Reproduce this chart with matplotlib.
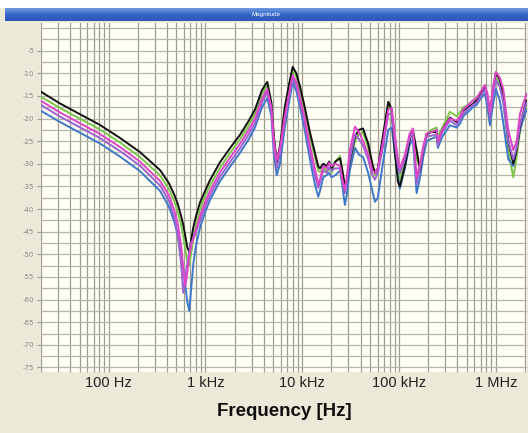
import numpy as np
import matplotlib
matplotlib.use("Agg")
import matplotlib.pyplot as plt
from matplotlib.patches import Rectangle
from matplotlib.ticker import FixedLocator, NullFormatter

# ---------------- data ----------------
freq_hz = [20, 31, 50, 81, 131, 210, 340, 420, 480, 520, 560, 590, 620, 650, 680, 710, 750, 800, 880,
           1000, 1115, 1400, 1800, 2275, 2800, 3250, 3840, 4350, 4800, 5100, 5450, 5900, 6600, 7300,
           7960, 8700, 9500, 10500, 12000, 13500, 14650, 15250, 16500, 17900, 19000, 20100, 22000,
           24600, 26000, 27600, 28800, 31000, 35100, 38500, 42500, 48000, 53000, 56400, 60400, 68000,
           77500, 84000, 90000, 97500, 102000, 115000, 128000, 139000, 152000, 165000, 178000, 193000,
           215000, 245000, 252000, 280000, 336000, 394000, 430000, 461000, 520000, 580000, 634000,
           700000, 773000, 830000, 870000, 935000, 1002000, 1100000, 1194000, 1345000, 1515000,
           1642000, 1776000, 1900000, 2082000]

black_db = [-14.1, -16.6, -19.0, -21.4, -24.3, -27.4, -31.4, -34.3, -37.0, -39.0, -41.5, -43.5, -46.0,
            -48.5, -49.5, -47.0, -44.0, -41.5, -38.5, -35.8, -33.6, -29.8, -26.5, -23.6, -20.5, -18.0,
            -13.7, -11.9, -16.5, -24.0, -29.5, -26.0, -17.5, -12.5, -8.6, -10.0, -13.0, -17.0, -23.0,
            -27.5, -30.6, -31.0, -30.0, -30.5, -29.5, -31.0, -29.5, -28.8, -31.5, -35.0, -34.0, -29.5,
            -24.0, -22.5, -22.2, -25.5, -30.0, -32.0, -31.0, -24.0, -16.3, -18.0, -27.0, -34.0, -35.0,
            -30.5, -25.0, -22.5, -27.0, -31.4, -27.0, -23.5, -23.0, -23.0, -25.5, -22.5, -19.8, -20.8,
            -19.5, -18.2, -17.5, -16.8, -16.0, -14.5, -12.8, -16.0, -19.5, -14.0, -9.8, -11.5, -14.5,
            -25.0, -30.0, -27.0, -22.0, -19.0, -16.0]

green_db = [-15.2, -17.6, -20.0, -22.4, -25.3, -28.5, -32.6, -35.6, -38.5, -40.8, -43.5, -46.0, -49.0,
            -51.5, -52.5, -50.0, -46.5, -43.5, -40.0, -37.0, -34.8, -31.0, -27.6, -24.6, -21.5, -19.0,
            -14.6, -12.6, -17.0, -24.5, -30.0, -26.5, -18.5, -13.3, -9.3, -10.8, -14.0, -18.0, -24.0,
            -28.5, -31.5, -31.8, -31.0, -31.5, -31.0, -32.0, -29.5, -28.3, -32.0, -35.5, -34.5, -30.5,
            -25.0, -23.5, -23.0, -26.5, -30.5, -32.5, -31.5, -25.0, -17.0, -18.5, -26.0, -32.0, -33.5,
            -29.0, -24.5, -23.0, -29.0, -30.5, -26.5, -23.5, -22.5, -22.0, -24.0, -22.0, -18.5, -19.5,
            -18.5, -17.5, -17.0, -16.0, -15.5, -14.0, -13.0, -16.5, -19.0, -14.5, -11.0, -12.5, -16.0,
            -27.0, -33.0, -28.5, -23.0, -20.0, -17.0]

magenta_db = [-16.1, -18.6, -21.0, -23.4, -26.3, -29.5, -33.8, -37.0, -40.5, -43.5, -48.0, -53.0, -57.0,
              -54.0, -50.5, -48.0, -46.5, -44.5, -41.5, -38.3, -36.0, -32.0, -28.6, -25.6, -22.5, -20.0,
              -15.6, -13.5, -17.5, -25.0, -29.2, -26.5, -19.5, -14.5, -10.5, -12.0, -15.5, -19.5, -26.0,
              -31.0, -34.5, -33.5, -30.5, -31.0, -29.8, -30.5, -30.0, -30.5, -33.5, -35.8, -33.0, -27.0,
              -21.8, -23.0, -25.0, -28.0, -31.5, -32.0, -31.0, -25.5, -18.0, -17.7, -23.0, -29.0, -31.0,
              -28.0, -23.5, -22.2, -33.0, -30.0, -26.0, -23.3, -23.0, -22.5, -25.0, -22.5, -20.0, -20.5,
              -19.5, -18.0, -17.0, -16.0, -15.5, -14.0, -12.6, -15.0, -18.5, -13.0, -9.7, -11.0, -13.5,
              -22.5, -27.0, -25.0, -19.0, -17.0, -14.5]

purple_db = [-17.0, -19.5, -21.9, -24.3, -27.2, -30.4, -34.8, -38.2, -42.0, -46.0, -52.0, -58.5, -55.0,
             -52.0, -49.5, -47.5, -46.5, -45.0, -42.5, -39.3, -37.0, -33.0, -29.6, -26.6, -23.5, -21.0,
             -16.4, -14.2, -18.5, -26.5, -31.0, -28.0, -20.5, -15.3, -11.0, -12.8, -16.3, -20.5, -27.5,
             -32.5, -35.3, -34.0, -31.5, -32.0, -30.8, -31.5, -31.0, -31.0, -34.0, -36.5, -34.0, -29.0,
             -23.5, -24.5, -26.0, -29.0, -32.5, -33.5, -32.0, -26.5, -19.0, -19.0, -25.0, -30.5, -32.0,
             -29.0, -24.5, -23.0, -34.5, -31.0, -27.0, -24.0, -23.8, -23.5, -26.0, -23.0, -20.5, -21.5,
             -20.0, -19.0, -17.8, -17.0, -16.5, -15.0, -13.5, -17.0, -20.0, -15.0, -11.5, -13.0, -16.5,
             -25.0, -29.0, -26.5, -21.5, -19.0, -16.5]

blue_db = [-18.3, -20.7, -23.1, -25.5, -28.4, -31.6, -36.0, -39.5, -43.0, -46.0, -50.0, -53.5, -57.0,
           -60.5, -62.5, -58.0, -52.0, -48.0, -44.0, -40.5, -38.0, -34.0, -30.6, -27.6, -24.6, -22.0,
           -17.5, -15.5, -19.5, -28.0, -32.5, -30.0, -22.0, -16.5, -12.0, -14.0, -17.5, -22.0, -29.0,
           -34.5, -37.3, -36.0, -33.0, -32.5, -32.0, -33.0, -32.5, -31.5, -35.0, -39.1, -37.0, -31.5,
           -26.5, -28.0, -28.5, -32.0, -36.0, -38.4, -37.5, -30.0, -22.5, -22.0, -27.0, -33.0, -35.5,
           -31.0, -26.0, -24.5, -36.5, -33.0, -28.5, -25.0, -24.5, -24.0, -26.5, -24.0, -21.5, -22.0,
           -21.0, -19.5, -18.5, -17.5, -17.0, -15.5, -14.5, -18.5, -21.5, -17.0, -13.5, -16.0, -21.0,
           -29.0, -30.5, -26.5, -22.5, -20.5, -18.0]

series = [
    (green_db, "#7cc44a"),
    (blue_db, "#3d78c9"),
    (black_db, "#111111"),
    (purple_db, "#9a62d2"),
    (magenta_db, "#e045c8"),
]

y_ticks = [-5, -10, -15, -20, -25, -30, -35, -40, -45, -50, -55, -60, -65, -70, -75]
x_tick_vals = [100, 1000, 10000, 100000, 1000000]
x_tick_labels = ["100 Hz", "1 kHz", "10 kHz", "100 kHz", "1 MHz"]

# ---------------- figure ----------------
W, H = 528, 433
fig = plt.figure(figsize=(W / 100, H / 100), dpi=100, facecolor="#ece9d8")

# white strip at very top
fig.patches.append(Rectangle((0, 1 - 8 / H), 1, 8 / H, transform=fig.transFigure,
                             facecolor="white", edgecolor="none", zorder=0))
# blue title bar with a slight gradient
grad = np.linspace(0, 1, 64).reshape(-1, 1)
bar_ax = fig.add_axes([5 / W, 1 - 21 / H, 1 - 5 / W, 13 / H])
from matplotlib.colors import LinearSegmentedColormap
cm = LinearSegmentedColormap.from_list("bar", ["#2a56b8", "#3566c8", "#6f9ae0"])
bar_ax.imshow(grad, aspect="auto", cmap=cm, origin="lower", extent=[0, 1, 0, 1])
bar_ax.set_axis_off()
bar_ax.text(0.5, 0.5, "Magnitude", color="white", fontsize=4.5, ha="center", va="center",
            family="Liberation Sans")

left, right, top, bottom = 41, 527, 23, 372
ax = fig.add_axes([left / W, 1 - bottom / H, (right - left) / W, (bottom - top) / H])
ax.set_facecolor("#fffff6")
ax.set_xscale("log")
ax.set_xlim(20, 2.1e6)
ax.set_ylim(-76.0, 1.1)

# grid
minor_x = [m * 10 ** d for d in range(1, 7) for m in range(1, 10)]
minor_x = [v for v in minor_x if 20 <= v <= 2.1e6]
for v in minor_x:
    ax.axvline(v, color="#9d9d8c", lw=0.9, zorder=1)
for yv in np.arange(-75, 1, 2.5):
    ax.axhline(yv, color="#b3b3aa", lw=0.9, zorder=1)

for vals, col in series:
    ax.plot(freq_hz, vals, color=col, lw=1.4, zorder=3, solid_joinstyle="round")

ax.xaxis.set_major_locator(FixedLocator(x_tick_vals))
ax.set_xticklabels(x_tick_labels)
ax.xaxis.set_minor_locator(FixedLocator(minor_x))
ax.xaxis.set_minor_formatter(NullFormatter())
ax.tick_params(axis="x", which="both", direction="in", length=3, color="#a0a0a0",
               labelsize=10.5, labelcolor="#222222", pad=3)
for lab in ax.get_xticklabels():
    lab.set_family("Liberation Sans")

ax.set_yticks(y_ticks)
ax.set_yticklabels([str(v) for v in y_ticks])
ax.tick_params(axis="y", direction="out", length=3, color="#9a9a9a", labelsize=5,
               labelcolor="#888888", pad=2)
for sp in ax.spines.values():
    sp.set_visible(False)

fig.text((left + right) / 2 / W, 1 - 412 / H, "Frequency [Hz]", ha="center", va="center",
         fontsize=13.5, fontweight="bold", color="#111111", family="Liberation Sans")

fig.savefig("out.png", dpi=100, facecolor=fig.get_facecolor())
